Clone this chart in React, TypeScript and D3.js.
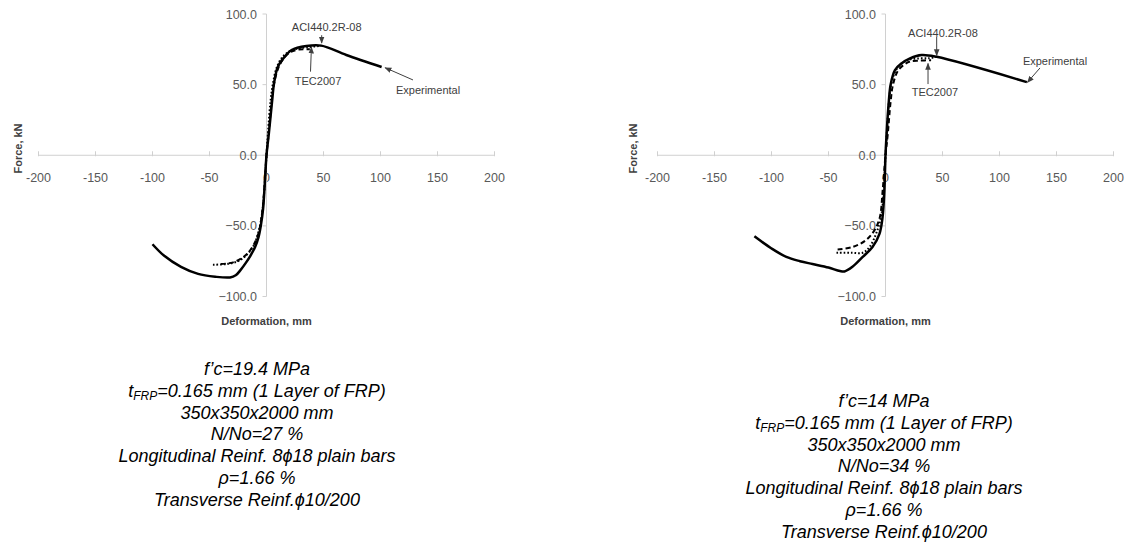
import React from "react";
import * as d3 from "d3";

// ---------- data ----------
const xTicks = [-200, -150, -100, -50, 0, 50, 100, 150, 200];
const yTicks = [-100, -50, 0, 50, 100];

// Left specimen (f'c = 19.4 MPa)
const leftExperimental: [number, number][] = [
  [-100, -63], [-90, -71], [-75, -79], [-60, -84], [-45, -86], [-32, -86.5], [-27, -85],
  [-23, -81.5], [-18, -76], [-14, -71], [-10, -65], [-7, -58], [-5, -50], [-3, -38],
  [-1.5, -20], [0, 0], [2, 15], [5, 39], [6.6, 51], [10, 62.7], [16, 69.8], [22, 74.5],
  [35, 77.3], [48, 77.6], [70, 71], [101, 62.5],
];
const leftTEC: [number, number][] = [
  [-40, -77], [-30, -76], [-22, -73], [-16, -69], [-11, -63], [-7, -55], [-4, -42],
  [-2, -25], [0, 0], [2, 16], [4.5, 38], [6.5, 50], [10, 61], [15, 68.5], [21, 73],
  [28, 74.8], [38, 75],
];
const leftACI: [number, number][] = [
  [-47, -77.5], [-35, -77], [-25, -75], [-18, -71], [-12, -65], [-8, -57], [-5, -47],
  [-3, -35], [-1.5, -20], [0, 0], [1.5, 18], [3.5, 38], [5.5, 50], [8.5, 61], [13, 68.5],
  [19, 73], [27, 75.5], [36, 76.5], [48, 77.5],
];

// Right specimen (f'c = 14 MPa)
const rightExperimental: [number, number][] = [
  [-115, -57.4], [-100, -66], [-87, -72], [-75, -75], [-64, -77], [-50, -79.5], [-40, -82],
  [-36, -82.3], [-29, -79], [-20, -72], [-11.4, -65], [-5.3, -55.6], [-2.6, -44], [-1, -25],
  [0, 0], [1, 15.6], [3, 39], [4.5, 50], [8.3, 60.3], [14, 65], [21.5, 68.6], [31.7, 71],
  [44.9, 69.7], [124, 51.8],
];
const rightTEC: [number, number][] = [
  [-42, -66.7], [-29, -65], [-17, -60], [-9.6, -53], [-5, -44], [-2.5, -25], [0, 0],
  [2, 15], [4.5, 38], [6.6, 50], [11, 60], [17, 64.5], [22, 66.5], [30, 67], [40, 67.3],
];
const rightACI: [number, number][] = [
  [-43, -69], [-30, -69], [-20, -69], [-14, -65], [-8, -55], [-4, -44], [-1.5, -25], [0, 0],
  [1.5, 20], [3.5, 42], [5.5, 52], [9, 60], [14, 65], [20, 67.5], [28, 68.5], [38, 68.7],
  [44, 69.5],
];

// annotations: [label, textX, textY, arrowFromX, arrowFromY, arrowToX, arrowToY] (data units)
const leftNotes: [string, number, number, number, number, number, number][] = [
  ["ACI440.2R-08", 52.8, 90.8, 48.4, 85, 48.4, 79.5],
  ["TEC2007", 45.2, 52.6, 38.6, 59.2, 39.4, 76.5],
  ["Experimental", 141.7, 46.2, 128.5, 53.3, 104, 62],
];
const rightNotes: [string, number, number, number, number, number, number][] = [
  ["ACI440.2R-08", 50.4, 86.5, 44.9, 83.7, 44.9, 70.5],
  ["TEC2007", 43.4, 44.8, 37.3, 50.4, 37.3, 65],
  ["Experimental", 148.7, 66.7, 135.5, 61.8, 124.5, 51.6],
];

const leftSpecs = [
  "f’c=19.4 MPa",
  "t_FRP=0.165 mm (1 Layer of FRP)",
  "350x350x2000 mm",
  "N/No=27 %",
  "Longitudinal Reinf. 8ϕ18 plain bars",
  "ρ=1.66 %",
  "Transverse Reinf.ϕ10/200",
];
const rightSpecs = [
  "f’c=14 MPa",
  "t_FRP=0.165 mm (1 Layer of FRP)",
  "350x350x2000 mm",
  "N/No=34 %",
  "Longitudinal Reinf. 8ϕ18 plain bars",
  "ρ=1.66 %",
  "Transverse Reinf.ϕ10/200",
];

const xTitle = "Deformation, mm";
const yTitle = "Force, kN";

// ---------- drawing ----------
const FONT = "'Liberation Sans', Arial, sans-serif";

type Props = {
  ox: number;
  yTitleX: number;
  exp: [number, number][];
  tec: [number, number][];
  aci: [number, number][];
  notes: [string, number, number, number, number, number, number][];
  specs: string[];
  specX: number;
  specY: number;
};

function Chart({ ox, yTitleX, exp, tec, aci, notes, specs, specX, specY }: Props) {
  const x = d3.scaleLinear().domain([-200, 200]).range([ox - 228, ox + 228]);
  const y = d3.scaleLinear().domain([-100, 100]).range([296.5, 14]);
  const line = d3
    .line<[number, number]>()
    .x((d) => x(d[0]))
    .y((d) => y(d[1]))
    .curve(d3.curveCatmullRom.alpha(0.5));
  const fmt = d3.format(".1f");
  const y0 = y(0);
  const x0 = x(0);
  return (
    <g>
      {/* axes */}
      <line x1={x(-200)} x2={x(200)} y1={y0} y2={y0} stroke="#d0d0d0" strokeWidth={1} />
      {xTicks.map((t) => (
        <g key={"xt" + t}>
          <line x1={x(t)} x2={x(t)} y1={y0 - 4} y2={y0 + 1} stroke="#d0d0d0" strokeWidth={1} />
          <text x={x(t)} y={182} textAnchor="middle" fontSize={12.5} fill="#595959" fontFamily={FONT}>
            {t}
          </text>
        </g>
      ))}
      <line x1={x0} x2={x0} y1={y(100)} y2={y(-100)} stroke="#d0d0d0" strokeWidth={1} />
      {yTicks.map((t) => (
        <g key={"yt" + t}>
          <line x1={x0 - 4} x2={x0} y1={y(t)} y2={y(t)} stroke="#d0d0d0" strokeWidth={1} />
          <text x={x0 - 9.5} y={y(t) + 4.5} textAnchor="end" fontSize={12.5} fill="#595959" fontFamily={FONT}>
            {fmt(t)}
          </text>
        </g>
      ))}
      {/* titles */}
      <text
        transform={`translate(${yTitleX},${148.5}) rotate(-90)`}
        textAnchor="middle"
        dy="0.35em"
        fontSize={11}
        fontWeight="bold"
        fill="#404040"
        fontFamily={FONT}
      >
        {yTitle}
      </text>
      <text x={x0} y={325} textAnchor="middle" fontSize={11} fontWeight="bold" fill="#404040" fontFamily={FONT}>
        {xTitle}
      </text>
      {/* curves */}
      <path d={line(aci) || ""} fill="none" stroke="#000" strokeWidth={2} strokeDasharray="1.6,2" />
      <path d={line(tec) || ""} fill="none" stroke="#000" strokeWidth={2} strokeDasharray="5,3" />
      <path d={line(exp) || ""} fill="none" stroke="#000" strokeWidth={2.5} />
      {/* annotations */}
      {notes.map((n) => (
        <g key={n[0]}>
          <text x={x(n[1])} y={y(n[2])} dy="0.35em" textAnchor="middle" fontSize={11} fill="#404040" fontFamily={FONT}>
            {n[0]}
          </text>
          <line
            x1={x(n[3])}
            y1={y(n[4])}
            x2={x(n[5])}
            y2={y(n[6])}
            stroke="#404040"
            strokeWidth={1}
            markerEnd="url(#arrowHead)"
          />
        </g>
      ))}
      {/* specification text */}
      {specs.map((s, i) => {
        const yy = specY + i * 21.8;
        if (s.startsWith("t_FRP")) {
          const rest = s.slice(5);
          return (
            <text key={i} x={specX} y={yy} textAnchor="middle" fontSize={18} fontStyle="italic" fill="#000" fontFamily={FONT}>
              t
              <tspan fontSize={12} dy={3}>
                FRP
              </tspan>
              <tspan dy={-3}>{rest}</tspan>
            </text>
          );
        }
        return (
          <text key={i} x={specX} y={yy} textAnchor="middle" fontSize={18} fontStyle="italic" fill="#000" fontFamily={FONT}>
            {s}
          </text>
        );
      })}
    </g>
  );
}

export default function App() {
  return (
    <svg
      width={1127}
      height={548}
      style={{ position: "absolute", left: 0, top: 0, background: "#fff" }}
      xmlns="http://www.w3.org/2000/svg"
    >
      <defs>
        <marker id="arrowHead" viewBox="0 0 10 10" refX={9} refY={5} markerWidth={7} markerHeight={7} orient="auto-start-reverse" markerUnits="userSpaceOnUse">
          <path d="M0,1 L10,5 L0,9 Z" fill="#404040" />
        </marker>
      </defs>
      <rect x={0} y={0} width={1127} height={548} fill="#fff" />
      <Chart
        ox={266.5}
        yTitleX={18}
        exp={leftExperimental}
        tec={leftTEC}
        aci={leftACI}
        notes={leftNotes}
        specs={leftSpecs}
        specX={257}
        specY={375}
      />
      <Chart
        ox={885.5}
        yTitleX={633}
        exp={rightExperimental}
        tec={rightTEC}
        aci={rightACI}
        notes={rightNotes}
        specs={rightSpecs}
        specX={884}
        specY={407}
      />
    </svg>
  );
}
